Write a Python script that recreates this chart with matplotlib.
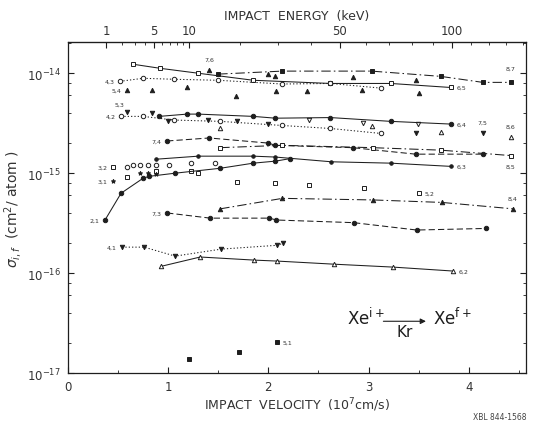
import numpy as np
import matplotlib
matplotlib.use("Agg")
import matplotlib.pyplot as plt
from matplotlib.ticker import FixedLocator, NullFormatter

# data: velocity (1e7 cm/s) and cross section (cm^2/atom)
v_65 = [0.65, 0.92, 1.30, 1.85, 2.62, 3.22, 3.82]
s_65 = [1.23e-14, 1.12e-14, 1.0e-14, 8.5e-15, 7.9e-15, 7.9e-15, 7.2e-15]
v_87 = [1.50, 2.14, 3.03, 3.72, 4.14, 4.42]
s_87 = [9.8e-15, 1.05e-14, 1.05e-14, 9.3e-15, 8.1e-15, 8.1e-15]
v_43 = [0.52, 0.75, 1.06, 1.50, 2.14, 2.62, 3.12]
s_43 = [8.3e-15, 8.9e-15, 8.7e-15, 8.5e-15, 7.8e-15, 7.9e-15, 7.1e-15]
v_54 = [0.59, 0.84, 1.19, 1.68, 2.08, 2.39, 2.93, 3.50]
s_54 = [6.8e-15, 6.8e-15, 7.2e-15, 5.9e-15, 6.6e-15, 6.6e-15, 6.8e-15, 6.3e-15]
v_76 = [1.41, 2.00, 2.07, 2.84, 3.47]
s_76 = [1.07e-14, 9.8e-15, 9.3e-15, 9.1e-15, 8.5e-15]
v_53 = [0.59, 0.84, 1.00, 1.40, 1.69, 2.00]
s_53 = [4.1e-15, 4.0e-15, 3.3e-15, 3.4e-15, 3.3e-15, 3.1e-15]
v_nab = [2.41, 2.94, 3.49]
s_nab = [3.4e-15, 3.2e-15, 3.1e-15]
v_42 = [0.53, 0.75, 1.06, 1.52, 2.14, 2.62, 3.12]
s_42 = [3.7e-15, 3.7e-15, 3.4e-15, 3.3e-15, 3.0e-15, 2.8e-15, 2.5e-15]
v_86 = [1.52, 3.03, 3.72, 4.42]
s_86 = [2.8e-15, 2.95e-15, 2.6e-15, 2.3e-15]
v_64 = [0.91, 1.19, 1.30, 1.85, 2.07, 2.62, 3.22, 3.82]
s_64 = [3.7e-15, 3.9e-15, 3.9e-15, 3.7e-15, 3.55e-15, 3.6e-15, 3.3e-15, 3.1e-15]
v_75 = [3.47, 4.14]
s_75 = [2.5e-15, 2.5e-15]
v_74 = [0.99, 1.41, 2.00, 2.07, 2.84, 3.47, 4.14]
s_74 = [2.1e-15, 2.25e-15, 2.0e-15, 1.9e-15, 1.8e-15, 1.55e-15, 1.55e-15]
v_85 = [1.52, 2.14, 3.04, 3.72, 4.42]
s_85 = [1.8e-15, 1.9e-15, 1.8e-15, 1.7e-15, 1.5e-15]
v_63 = [0.88, 1.30, 1.85, 2.07, 2.63, 3.22, 3.82]
s_63 = [1.38e-15, 1.48e-15, 1.48e-15, 1.45e-15, 1.3e-15, 1.26e-15, 1.17e-15]
v_circ = [0.59, 0.65, 0.72, 0.80, 0.88, 1.01, 1.23, 1.47]
s_circ = [1.15e-15, 1.2e-15, 1.2e-15, 1.2e-15, 1.2e-15, 1.22e-15, 1.25e-15, 1.25e-15]
v_32 = [0.45, 0.59, 0.88, 1.23, 1.30]
s_32 = [1.15e-15, 9.1e-16, 1.05e-15, 1.05e-15, 1.0e-15]
v_31 = [0.45, 0.72, 0.80, 0.88]
s_31 = [8.3e-16, 1.0e-15, 1.0e-15, 9.8e-16]
v_21 = [0.37, 0.53, 0.75, 0.81, 1.07, 1.52, 1.85, 2.07, 2.22]
s_21 = [3.4e-16, 6.3e-16, 8.9e-16, 9.3e-16, 1.0e-15, 1.12e-15, 1.26e-15, 1.32e-15, 1.4e-15]
v_52 = [1.69, 2.07, 2.41, 2.95, 3.50]
s_52 = [8.1e-16, 7.9e-16, 7.6e-16, 7.1e-16, 6.3e-16]
v_84 = [1.52, 2.14, 3.04, 3.73, 4.44]
s_84 = [4.4e-16, 5.6e-16, 5.4e-16, 5.1e-16, 4.4e-16]
v_73 = [0.99, 1.42, 2.01, 2.08, 2.85, 3.48, 4.17]
s_73 = [4.0e-16, 3.55e-16, 3.55e-16, 3.4e-16, 3.2e-16, 2.7e-16, 2.8e-16]
v_41 = [0.54, 0.76, 1.07, 1.53, 2.09, 2.15]
s_41 = [1.82e-16, 1.82e-16, 1.48e-16, 1.74e-16, 1.9e-16, 2.0e-16]
v_62 = [0.93, 1.32, 1.86, 2.09, 2.65, 3.24, 3.84]
s_62 = [1.17e-16, 1.45e-16, 1.35e-16, 1.32e-16, 1.23e-16, 1.15e-16, 1.05e-16]
v_51 = [1.21, 1.71, 2.09]
s_51 = [1.38e-17, 1.62e-17, 2.04e-17]

energy_major = [1, 5, 10, 50, 100]
energy_minor = [2, 3, 4, 6, 7, 8, 9, 20, 30, 40, 60, 70, 80, 90, 110, 120, 130, 140]

INK = "#1e1e1e"
SOLID = "-"
DASH = (0, (6, 3))
DDOT = (0, (9, 3, 1.5, 3))
DOT = (0, (1.2, 2))
NONE = "none"

# (v, s, label, marker, filled, linestyle, label side)
series = [
    (v_65, s_65, "6,5", "s", False, SOLID, "r"),
    (v_87, s_87, "8,7", "s", True, DDOT, "ur"),
    (v_43, s_43, "4,3", "o", False, DOT, "l"),
    (v_54, s_54, "5,4", "^", True, NONE, "l"),
    (v_76, s_76, "7,6", "^", True, NONE, "u0"),
    (v_53, s_53, "5,3", "v", True, NONE, "ul"),
    (v_nab, s_nab, None, "v", False, NONE, None),
    (v_42, s_42, "4,2", "o", False, DOT, "l"),
    (v_86, s_86, "8,6", "^", False, NONE, "u"),
    (v_64, s_64, "6,4", "o", True, SOLID, "r"),
    (v_75, s_75, "7,5", "v", True, NONE, "u"),
    (v_74, s_74, "7,4", "o", True, DASH, "l"),
    (v_85, s_85, "8,5", "s", False, DDOT, "d"),
    (v_63, s_63, "6,3", ".", True, SOLID, "r"),
    (v_circ, s_circ, None, "o", False, NONE, None),
    (v_32, s_32, "3,2", "s", False, NONE, "l"),
    (v_31, s_31, "3,1", "*", True, NONE, "l"),
    (v_21, s_21, "2,1", "o", True, SOLID, "l"),
    (v_52, s_52, "5,2", "s", False, NONE, "r"),
    (v_84, s_84, "8,4", "^", True, DDOT, "u"),
    (v_73, s_73, "7,3", "o", True, DASH, "l"),
    (v_41, s_41, "4,1", "v", True, DOT, "l"),
    (v_62, s_62, "6,2", "^", False, SOLID, "r"),
    (v_51, s_51, "5,1", "s", True, NONE, "r"),
]

fig = plt.figure(figsize=(5.35, 4.35), dpi=100)
ax = fig.add_axes([0.127, 0.140, 0.856, 0.761])

offsets = {"l": (-4, 0, "right", "center"), "r": (4, 0, "left", "center"),
           "u": (0, 6, "center", "bottom"), "u0": (0, 6, "center", "bottom"),
           "ul": (-2, 4, "right", "bottom"),
           "ur": (0, 8, "center", "bottom"), "d": (0, -6, "center", "top")}

for v, s, lab, mk, filled, ls, side in series:
    ax.plot(v, s, linestyle=ls, color=INK, lw=0.75, marker=mk,
            ms=5 if mk == "." else 3.2, mfc=INK if filled else "white",
            mec=INK, mew=0.7)
    if lab is None:
        continue
    i = 0 if side in ("l", "ul", "u0") else -1
    dx, dy, ha, va = offsets[side]
    ax.annotate(lab, (v[i], s[i]), xytext=(dx, dy), textcoords="offset points",
                ha=ha, va=va, fontsize=4.5, color="#333333")

ax.set_yscale("log")
ax.set_xlim(0, 4.57)
ax.set_ylim(1e-17, 2.05e-14)
ax.set_xticks([0, 1, 2, 3, 4])
ax.xaxis.set_minor_locator(FixedLocator([0.5, 1.5, 2.5, 3.5, 4.5]))
ax.yaxis.set_major_locator(FixedLocator([1e-17, 1e-16, 1e-15, 1e-14]))
ax.yaxis.set_minor_locator(FixedLocator(
    [m * 10.0**e for e in (-17, -16, -15, -14) for m in (2, 4, 6, 8)]))
ax.yaxis.set_minor_formatter(NullFormatter())
ax.tick_params(which="both", direction="in", top=False, right=True,
               labelsize=8.5, color=INK, labelcolor="#333333", pad=5)
ax.tick_params(which="major", length=4)
ax.tick_params(which="minor", length=2.5)
for sp in ax.spines.values():
    sp.set_linewidth(0.9)
    sp.set_color(INK)

ax.set_xlabel("IMPACT  VELOCITY  (10$^7$cm/s)", fontsize=9, color="#333333",
              labelpad=2)
ax.set_ylabel(r"$\sigma_{i,f}$  (cm$^2$/ atom )", fontsize=10,
              color="#333333", labelpad=2)


def v2e(v):
    return 6.8 * np.asarray(v) ** 2


def e2v(e):
    return np.sqrt(np.clip(np.asarray(e, dtype=float), 0, None) / 6.8)


top = ax.secondary_xaxis("top", functions=(v2e, e2v))
top.set_xticks(energy_major)
top.xaxis.set_minor_locator(FixedLocator(energy_minor))
top.tick_params(which="both", direction="in", labelsize=8.5,
                labelcolor="#333333", color=INK)
top.tick_params(which="major", length=4)
top.tick_params(which="minor", length=2.5)
top.set_xlabel("IMPACT  ENERGY  (keV)", fontsize=9, color="#333333",
               labelpad=4)

# reaction label
ax.text(2.78, 3.6e-17, r"Xe$^{\mathrm{i+}}$", fontsize=12, color=INK,
        ha="left", va="center")
ax.annotate("", xy=(3.6, 3.3e-17), xytext=(3.12, 3.3e-17),
            arrowprops=dict(arrowstyle="-|>", color=INK, lw=0.8,
                            mutation_scale=8))
ax.text(3.36, 2.6e-17, "Kr", fontsize=11, color=INK, ha="center",
        va="center")
ax.text(3.64, 3.6e-17, r"Xe$^{\mathrm{f+}}$", fontsize=12, color=INK,
        ha="left", va="center")

fig.text(0.985, 0.035, "XBL 844-1568", fontsize=5.5, ha="right",
         color="#444444")

fig.savefig("out.png", dpi=100)
